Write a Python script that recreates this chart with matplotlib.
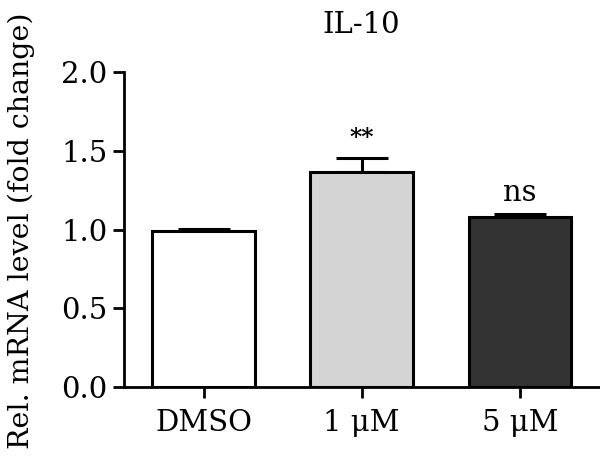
import matplotlib
matplotlib.use("Agg")
import matplotlib.pyplot as plt

categories = ["DMSO", "1 \u03bcM", "5 \u03bcM"]
values = [0.99, 1.365, 1.08]
errors = [0.015, 0.09, 0.016]
annotations = ["", "**", "ns"]
colors = ["#ffffff", "#d4d4d4", "#333333"]

plt.rcParams['font.family'] = ['DejaVu Serif']

fig = plt.figure(figsize=(6.0, 4.61), dpi=100)
ax = fig.add_axes([124/600, 1-387/461, (599-124)/600, (387-72)/461])

x = list(range(len(categories)))
ax.bar(x, values, width=0.65, color=colors, edgecolor="black", linewidth=2.2, zorder=2)
ax.errorbar(x, values, yerr=[[0]*3, errors], fmt="none", ecolor="black",
            elinewidth=2.2, capsize=19, capthick=2.2, zorder=1)

for xi, v, e, a in zip(x, values, errors, annotations):
    if a == "**":
        ax.text(xi, v + e + 0.05, a, ha="center", va="bottom", fontsize=17, fontweight="bold")
    elif a:
        ax.text(xi, v + e + 0.05, a, ha="center", va="bottom", fontsize=21)

ax.set_xlim(-0.503, 2.5)
ax.set_ylim(0, 2.0)
ax.set_yticks([0, 0.5, 1.0, 1.5, 2.0])
ax.set_yticklabels(["0.0", "0.5", "1.0", "1.5", "2.0"])
ax.set_xticks(x)
ax.set_xticklabels(categories)
ax.tick_params(axis="both", direction="out", length=8, width=2, labelsize=21)
ax.tick_params(axis="y", pad=4)
ax.tick_params(axis="x", pad=8)
for s in ["top", "right"]:
    ax.spines[s].set_visible(False)
for s in ["left", "bottom"]:
    ax.spines[s].set_linewidth(2)

ax.set_title("IL-10", fontsize=21, pad=28)
fig.text(0.036, 0.5, "Rel. mRNA level (fold change)", rotation=90, ha="center", va="center", fontsize=20.5)

fig.savefig("out.png", dpi=100)
